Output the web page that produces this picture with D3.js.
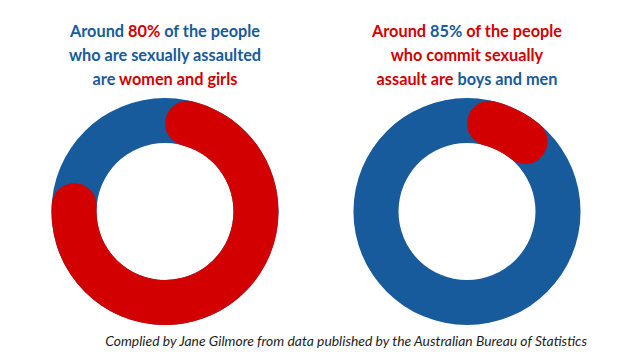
<!DOCTYPE html>
<html>
<head>
<meta charset="utf-8">
<script src="https://cdn.jsdelivr.net/npm/d3@7"></script>
<style>
  body { margin: 0; background: #fff; }
  svg text { font-family: Lato, "Open Sans", sans-serif; }
</style>
</head>
<body>
<div id="chart"></div>
<script>
// Chart data
var panels = ["victims", "perpetrators"];
var femaleShare = [80, 15];   // red part (women and girls)
var maleShare = [20, 85];     // blue part (boys and men)

// title lines, each line is a list of [text, colour key]
var titleLeft = [
  [["Around ", "b"], ["80%", "r"], [" of the people", "b"]],
  [["who are sexually assaulted", "b"]],
  [["are ", "b"], ["women and girls", "r"]]
];
var titleRight = [
  [["Around ", "r"], ["85%", "b"], [" of the people", "r"]],
  [["who commit sexually", "r"]],
  [["assault are ", "r"], ["boys and men", "b"]]
];
var titles = [titleLeft, titleRight];
var sourceNote = "Complied by Jane Gilmore from data published by the Australian Bureau of Statistics";

var svgWidth = 642;
var svgHeight = 362;
var blue = "#175b9d";
var red = "#d30000";
var colours = { b: blue, r: red };

var svg = d3.select("#chart")
  .append("svg")
  .attr("width", svgWidth)
  .attr("height", svgHeight);

// one slot per panel
var xScale = d3.scalePoint()
  .domain(panels)
  .range([165, 467])
  .padding(0);

var angle = d3.scaleLinear().domain([0, 100]).range([0, 2 * Math.PI]);

var outerR = 113.5;
var innerR = 68.5;
var cy = 211.5;

var ring = d3.arc().innerRadius(innerR).outerRadius(outerR);
var roundArc = d3.arc().innerRadius(innerR).outerRadius(outerR).cornerRadius((outerR - innerR) / 2);

panels.forEach(function(p, i) {
  var g = svg.append("g")
    .attr("transform", `translate(${xScale(p)},${cy})`);

  // blue part sits under the whole ring
  g.append("path")
    .attr("d", ring({ startAngle: angle(0), endAngle: angle(femaleShare[i] + maleShare[i]) }))
    .attr("fill", blue);

  // red part with rounded ends on top
  g.append("path")
    .attr("d", roundArc({ startAngle: angle(0), endAngle: angle(femaleShare[i]) }))
    .attr("fill", red);

  // title
  titles[i].forEach(function(line, j) {
    var t = svg.append("text")
      .attr("x", xScale(p))
      .attr("y", 37 + j * 24)
      .attr("text-anchor", "middle")
      .attr("font-size", "16.3px")
      .attr("font-weight", 700);
    line.forEach(function(seg) {
      t.append("tspan").text(seg[0]).attr("fill", colours[seg[1]]);
    });
  });
});

svg.append("text")
  .attr("x", 587)
  .attr("y", 346)
  .attr("text-anchor", "end")
  .attr("font-size", "13.9px")
  .attr("font-style", "italic")
  .attr("fill", "#1e1e1e")
  .text(sourceNote);
</script>
</body>
</html>
